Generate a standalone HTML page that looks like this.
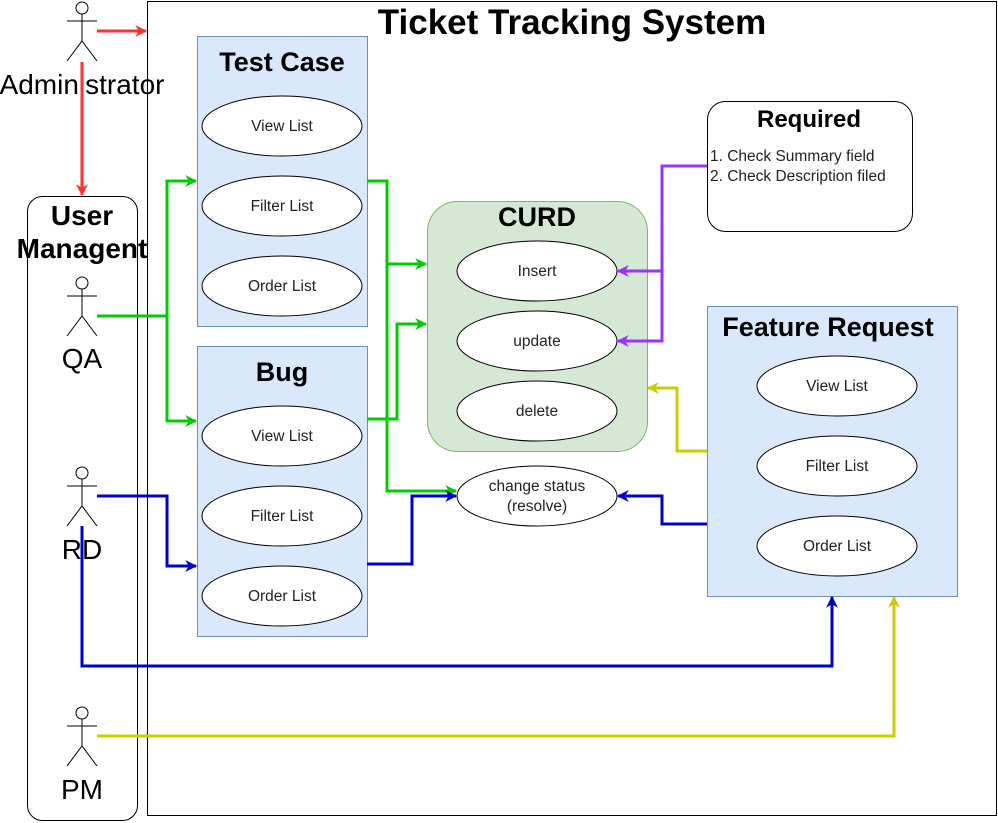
<!DOCTYPE html>
<html><head><meta charset="utf-8"><style>html,body{margin:0;padding:0;background:#fff}svg{display:block}text{font-family:"Liberation Sans",Arial,sans-serif}</style></head><body>
<svg width="998" height="823" viewBox="0 0 998 823" xmlns="http://www.w3.org/2000/svg">
<defs>
<marker id="ar" viewBox="0 0 10 10" refX="9" refY="5" markerWidth="14" markerHeight="12" markerUnits="userSpaceOnUse" orient="auto"><path d="M0,0 L10,5 L0,10 L3,5 Z" fill="#ff3333"/></marker>
<marker id="ag" viewBox="0 0 10 10" refX="9" refY="5" markerWidth="14" markerHeight="12" markerUnits="userSpaceOnUse" orient="auto"><path d="M0,0 L10,5 L0,10 L3,5 Z" fill="#00cc00"/></marker>
<marker id="ab" viewBox="0 0 10 10" refX="9" refY="5" markerWidth="14" markerHeight="12" markerUnits="userSpaceOnUse" orient="auto"><path d="M0,0 L10,5 L0,10 L3,5 Z" fill="#0000cc"/></marker>
<marker id="ay" viewBox="0 0 10 10" refX="9" refY="5" markerWidth="14" markerHeight="12" markerUnits="userSpaceOnUse" orient="auto"><path d="M0,0 L10,5 L0,10 L3,5 Z" fill="#cccc00"/></marker>
<marker id="ap" viewBox="0 0 10 10" refX="9" refY="5" markerWidth="14" markerHeight="12" markerUnits="userSpaceOnUse" orient="auto"><path d="M0,0 L10,5 L0,10 L3,5 Z" fill="#9933ff"/></marker>
</defs>
<g stroke="#000" fill="none" stroke-width="1">
<rect x="147.5" y="1.5" width="849" height="814" fill="#fff"/>
<rect x="27.5" y="196.5" width="110" height="624" rx="15" fill="#fff"/>
</g>
<text x="572" y="34" font-size="35" font-weight="bold" text-anchor="middle">Ticket Tracking System</text>
<text x="82" y="225" font-size="28" font-weight="bold" text-anchor="middle">User</text>
<text x="82" y="258" font-size="28" font-weight="bold" text-anchor="middle">Managent</text>
<g stroke="#000" fill="#fff" stroke-width="1">
<g transform="translate(82,0)"><circle cx="0" cy="8" r="6"/><path d="M0,14V41M-15,21H15M-15,61L0,41L15,61" fill="none"/></g>
<g transform="translate(82,275)"><circle cx="0" cy="8" r="6"/><path d="M0,14V41M-15,21H15M-15,61L0,41L15,61" fill="none"/></g>
<g transform="translate(82,465)"><circle cx="0" cy="8" r="6"/><path d="M0,14V41M-15,21H15M-15,61L0,41L15,61" fill="none"/></g>
<g transform="translate(82,705)"><circle cx="0" cy="8" r="6"/><path d="M0,14V41M-15,21H15M-15,61L0,41L15,61" fill="none"/></g>
</g>
<g font-size="28" text-anchor="middle">
<text x="82" y="94">Administrator</text>
<text x="82" y="368">QA</text>
<text x="82" y="559">RD</text>
<text x="82" y="799">PM</text>
</g>
<rect x="197.5" y="36.5" width="170" height="290" fill="#dae8fc" stroke="#6c8ebf"/>
<rect x="197.5" y="346.5" width="170" height="290" fill="#dae8fc" stroke="#6c8ebf"/>
<rect x="427.5" y="201.5" width="220" height="250" rx="30" fill="#d5e8d4" stroke="#82b366"/>
<rect x="707.5" y="306.5" width="250" height="290" fill="#dae8fc" stroke="#6c8ebf"/>
<rect x="707.5" y="101.5" width="205" height="130" rx="18" fill="#fff" stroke="#000"/>
<g font-weight="bold" text-anchor="middle">
<text x="282" y="71" font-size="27">Test Case</text>
<text x="282" y="381" font-size="27">Bug</text>
<text x="537" y="226" font-size="27">CURD</text>
<text x="828" y="336" font-size="27">Feature Request</text>
<text x="809" y="127" font-size="24">Required</text>
</g>
<text x="710" y="161" font-size="15.5" fill="#222">1. Check Summary field</text>
<text x="710" y="181" font-size="15.5" fill="#222">2. Check Description filed</text>
<g fill="#fff" stroke="#000">
<ellipse cx="282" cy="126" rx="80" ry="30"/><ellipse cx="282" cy="206" rx="80" ry="30"/><ellipse cx="282" cy="286" rx="80" ry="30"/>
<ellipse cx="282" cy="436" rx="80" ry="30"/><ellipse cx="282" cy="516" rx="80" ry="30"/><ellipse cx="282" cy="596" rx="80" ry="30"/>
<ellipse cx="537" cy="271" rx="80" ry="30"/><ellipse cx="537" cy="341" rx="80" ry="30"/><ellipse cx="537" cy="411" rx="80" ry="30"/>
<ellipse cx="537" cy="496" rx="80" ry="30"/>
<ellipse cx="837" cy="386" rx="80" ry="30"/><ellipse cx="837" cy="466" rx="80" ry="30"/><ellipse cx="837" cy="546" rx="80" ry="30"/>
</g>
<g font-size="15.5" text-anchor="middle" fill="#222">
<text x="282" y="131">View List</text><text x="282" y="211">Filter List</text><text x="282" y="291">Order List</text>
<text x="282" y="441">View List</text><text x="282" y="521">Filter List</text><text x="282" y="601">Order List</text>
<text x="537" y="276">Insert</text><text x="537" y="346">update</text><text x="537" y="416">delete</text>
<text x="537" y="491">change status</text><text x="537" y="511">(resolve)</text>
<text x="837" y="391">View List</text><text x="837" y="471">Filter List</text><text x="837" y="551">Order List</text>
</g>
<g fill="none" stroke-width="3">
<path d="M97,31H146" stroke="#ff3333" marker-end="url(#ar)"/>
<path d="M82,62V195" stroke="#ff3333" marker-end="url(#ar)"/>
<path d="M97,316H167V181H196" stroke="#00cc00" marker-end="url(#ag)"/>
<path d="M167,316V421H196" stroke="#00cc00" marker-end="url(#ag)"/>
<path d="M367,181H387V264H426" stroke="#00cc00" marker-end="url(#ag)"/>
<path d="M387,264V491H456" stroke="#00cc00" marker-end="url(#ag)"/>
<path d="M367,419H397V324H426" stroke="#00cc00" marker-end="url(#ag)"/>
<path d="M97,496H167V566H196" stroke="#0000cc" marker-end="url(#ab)"/>
<path d="M367,564H412V496H456" stroke="#0000cc" marker-end="url(#ab)"/>
<path d="M82,526V666H832V597" stroke="#0000cc" marker-end="url(#ab)"/>
<path d="M707,524H662V496H618" stroke="#0000cc" marker-end="url(#ab)"/>
<path d="M97,736H894V597" stroke="#cccc00" marker-end="url(#ay)"/>
<path d="M707,451H677V388H648" stroke="#cccc00" marker-end="url(#ay)"/>
<path d="M707,166H662V341H618" stroke="#9933ff" marker-end="url(#ap)"/>
<path d="M662,271H618" stroke="#9933ff" marker-end="url(#ap)"/>
</g>
</svg>
</body></html>
